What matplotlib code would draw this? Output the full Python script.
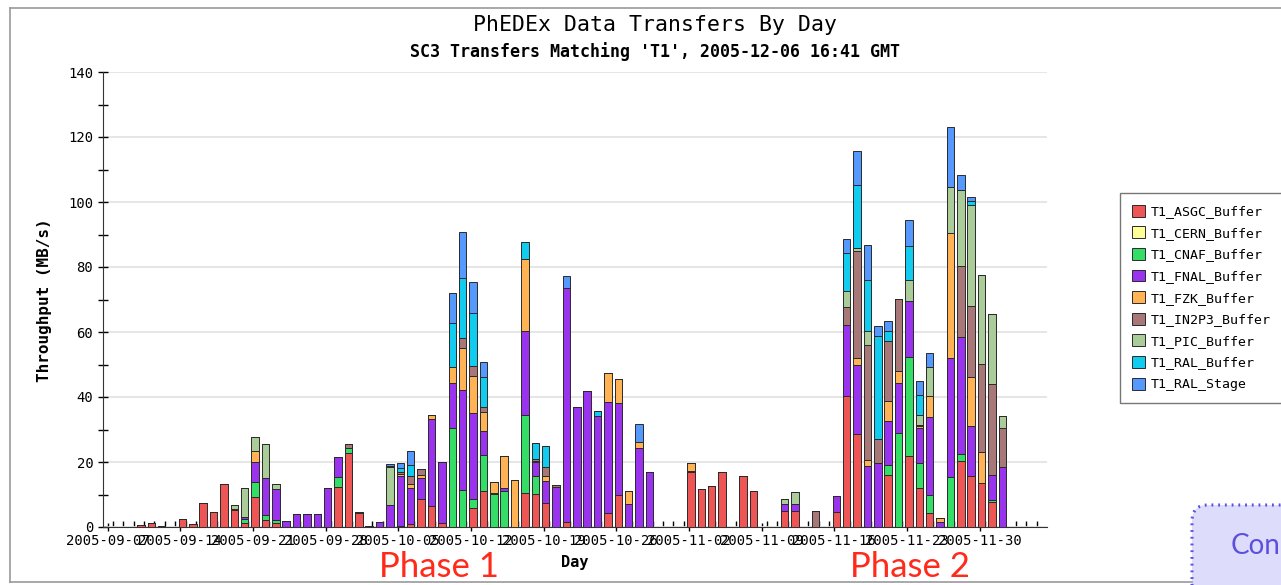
import matplotlib
matplotlib.use('Agg')
import matplotlib.pyplot as plt
import numpy as np
import pandas as pd
from matplotlib.patches import FancyBboxPatch
from matplotlib.lines import Line2D

# first bar day and start of the x axis
first_day = '2005-09-10'
axis_start = '2005-09-07'
n_label_weeks = 13

sites = ['T1_ASGC_Buffer', 'T1_CERN_Buffer', 'T1_CNAF_Buffer', 'T1_FNAL_Buffer',
         'T1_FZK_Buffer', 'T1_IN2P3_Buffer', 'T1_PIC_Buffer', 'T1_RAL_Buffer',
         'T1_RAL_Stage']
colors = ['#ee5555', '#ffff99', '#33dd66', '#9933ee', '#ffb355',
          '#a87878', '#aacc99', '#11ccee', '#5599ff']

# daily throughput (MB/s), one value per day from first_day
asgc = [0.7, 1.1, 0.3, 0, 2.5, 0.8, 7.3, 4.6, 13.1, 5.2, 1.3, 9.2,
        2.2, 1.3, 0, 0, 0, 0, 0, 12.3, 22.7, 4.2, 0, 0,
        0, 0.2, 0.9, 8.5, 6.5, 1.1, 0, 0, 5.7, 11.1, 0, 0,
        0, 10.6, 10.2, 7.5, 0, 1.6, 0, 0, 0, 4.2, 9.8, 0,
        0, 0, 0, 0, 0, 16.8, 11.6, 12.6, 16.9, 0, 15.7, 11.2,
        0, 0, 5.0, 5.0, 0, 0, 0, 4.5, 40.4, 28.6, 0, 0,
        15.9, 0, 21.7, 12.0, 4.2, 0, 0, 20.4, 15.8, 13.5, 7.6, 0]
cern = [0.0] * 84
cnaf = [0, 0, 0, 0, 0, 0, 0, 0, 0, 0.3, 1.3, 4.6,
        1.4, 0.9, 0, 0, 0, 0, 0, 3.2, 1.7, 0, 0, 0,
        0, 0, 0, 0, 0, 0, 30.6, 11.4, 2.8, 11.1, 10.1, 11.1,
        0, 23.9, 5.5, 0, 0, 0, 0, 0, 0, 0, 0, 0,
        0, 0, 0, 0, 0, 0, 0, 0, 0, 0, 0, 0,
        0, 0, 0, 0, 0, 0, 0, 0, 0, 0, 0, 0,
        3.3, 28.9, 30.5, 7.7, 5.7, 0, 15.5, 2.1, 0, 0, 0.6, 0]
fnal = [0, 0, 0, 0, 0, 0, 0, 0, 0, 0, 0.5, 6.2,
        11.4, 9.4, 1.8, 3.9, 3.9, 3.9, 11.9, 6.0, 0, 0, 0, 1.4,
        6.8, 15.6, 11.0, 6.7, 26.6, 19.0, 13.6, 30.8, 26.7, 7.3, 0.3, 0.8,
        0, 25.8, 4.4, 6.8, 12.4, 72.0, 36.8, 41.7, 34.2, 34.4, 28.5, 7.1,
        24.2, 17.0, 0, 0, 0, 0.4, 0, 0, 0, 0, 0, 0,
        0, 0, 2.0, 2.1, 0, 0, 0, 4.9, 21.7, 21.1, 18.7, 19.7,
        13.3, 15.4, 17.4, 10.8, 24.0, 1.4, 36.5, 35.9, 15.4, 0, 7.7, 18.6]
fzk = [0, 0, 0, 0, 0, 0, 0, 0, 0, 0, 0, 3.4,
       0, 0, 0, 0, 0, 0, 0, 0, 0, 0, 0, 0,
       0, 0.6, 1.3, 0.8, 1.4, 0, 5.1, 12.8, 11.3, 5.8, 3.3, 9.9,
       14.4, 22.1, 0.3, 1.4, 0, 0, 0, 0, 0, 8.9, 7.1, 4.1,
       2.0, 0, 0, 0, 0, 2.5, 0, 0, 0, 0, 0, 0,
       0, 0, 0, 0, 0, 0, 0, 0, 0, 2.3, 2.0, 0,
       6.2, 3.6, 0, 0.5, 6.4, 1.4, 38.4, 0, 15.1, 9.5, 0, 0]
in2p3 = [0, 0, 0, 0, 0, 0, 0, 0, 0, 0, 0, 0,
         0, 0, 0, 0, 0, 0, 0, 0, 1.0, 0.3, 0, 0,
         0, 0.5, 2.5, 2.0, 0, 0, 0, 3.1, 3.1, 1.5, 0, 0,
         0, 0, 0.4, 2.7, 0.6, 0, 0.2, 0, 0, 0, 0, 0,
         0, 0, 0, 0, 0, 0, 0, 0, 0, 0, 0, 0,
         0, 0, 0, 0, 0, 4.9, 0, 0, 5.6, 33.0, 35.2, 7.5,
         18.4, 22.3, 0, 0.5, 0, 0, 0, 22.0, 21.8, 27.2, 28.1, 11.9]
pic = [0, 0, 0, 0, 0, 0, 0, 0, 0, 1.3, 8.8, 4.4,
       10.4, 1.7, 0, 0, 0, 0, 0, 0, 0, 0, 0.4, 0,
       11.6, 0, 0, 0, 0, 0, 0, 0, 0, 0, 0, 0,
       0, 0, 0, 0, 0, 0, 0, 0, 0, 0, 0, 0,
       0, 0, 0, 0, 0, 0, 0, 0, 0, 0, 0, 0,
       0, 0, 1.5, 3.7, 0, 0, 0, 0, 4.8, 1.0, 4.3, 0,
       0, 0, 6.5, 3.1, 9.0, 0, 14.3, 23.3, 31.1, 27.2, 21.5, 3.8]
ral = [0, 0, 0, 0, 0, 0, 0, 0, 0, 0, 0, 0,
       0, 0, 0, 0, 0, 0, 0, 0, 0, 0, 0, 0,
       0.5, 1.3, 3.4, 0, 0, 0, 13.6, 18.4, 16.4, 9.5, 0, 0,
       0, 5.4, 5.1, 6.5, 0, 0, 0, 0, 1.5, 0, 0, 0,
       0, 0, 0, 0, 0, 0, 0, 0, 0, 0, 0, 0,
       0, 0, 0, 0, 0, 0, 0, 0, 11.8, 19.3, 15.9, 31.5,
       3.1, 0, 10.3, 6.1, 0, 0, 0, 0, 1.2, 0, 0, 0]
ral_stage = [0, 0, 0, 0, 0, 0, 0, 0, 0, 0, 0, 0,
             0, 0, 0, 0, 0, 0, 0, 0, 0, 0, 0, 0,
             0.5, 1.6, 4.3, 0, 0, 0, 9.2, 14.2, 9.5, 4.6, 0, 0,
             0, 0, 0, 0, 0, 3.6, 0, 0, 0, 0, 0, 0,
             5.4, 0, 0, 0, 0, 0, 0, 0, 0, 0, 0, 0,
             0, 0, 0, 0, 0, 0, 0, 0, 4.4, 10.5, 10.8, 3.0,
             3.3, 0, 8.2, 4.3, 4.1, 0, 18.3, 4.5, 1.2, 0, 0, 0]

series = [asgc, cern, cnaf, fnal, fzk, in2p3, pic, ral, ral_stage]

start = pd.Timestamp(axis_start)
days = pd.date_range(first_day, periods=len(asgc), freq='D')
x = np.array((days - start).days, dtype=float) + 0.2
label_days = pd.date_range(axis_start, periods=n_label_weeks, freq='7D')
label_pos = np.array((label_days - start).days, dtype=float)

mono = 'DejaVu Sans Mono'

fig = plt.figure(figsize=(12.81, 5.85), dpi=100)
ax = fig.add_axes([103/1281, 58/585, 944/1281, 455/585])

bottom = np.zeros(len(x))
for name, col, vals in zip(sites, colors, series):
    v = np.array(vals, dtype=float)
    ax.bar(x, v, width=0.72, bottom=bottom, color=col, edgecolor='#2a2a2a',
           linewidth=0.7, label=name, zorder=3)
    bottom += v

ax.set_xlim(-0.45, 90.5)
ax.set_ylim(0, 140)
ax.set_yticks(np.arange(0, 141, 20))
ax.set_yticks(np.arange(0, 141, 10), minor=True)
ax.set_xticks(label_pos)
ax.set_xticklabels([d.strftime('%Y-%m-%d') for d in label_days])
ax.set_xticks(np.arange(0, 90) + 0.5, minor=True)
ax.tick_params(axis='x', which='minor', direction='in', length=4, width=1)
ax.tick_params(axis='x', which='major', direction='inout', length=6, width=1, pad=2)
ax.tick_params(axis='y', which='both', direction='inout', length=7, width=1)
for lab in ax.get_xticklabels() + ax.get_yticklabels():
    lab.set_family(mono)
    lab.set_fontsize(10)

ax.yaxis.grid(True, color='#e2e2e2', linewidth=1.2)
ax.set_axisbelow(True)
for s in ['top', 'right']:
    ax.spines[s].set_visible(False)
ax.spines['left'].set_color('#333333')
ax.spines['bottom'].set_color('#333333')

fig.text(655/1281, 1 - 25/585, 'PhEDEx Data Transfers By Day', family=mono,
         fontsize=15.5, ha='center', va='center')
fig.text(655/1281, 1 - 52/585, "SC3 Transfers Matching 'T1', 2005-12-06 16:41 GMT",
         family=mono, fontsize=12, fontweight='bold', ha='center', va='center')
fig.text(45/1281, 1 - 300/585, 'Throughput (MB/s)', family=mono, fontsize=11.5,
         fontweight='bold', rotation=90, ha='center', va='center')
fig.text(575/1281, 1 - 563/585, 'Day', family=mono, fontsize=11,
         fontweight='bold', ha='center', va='center')

handles, labels = ax.get_legend_handles_labels()
leg = fig.legend(handles, labels, loc='upper left',
                 bbox_to_anchor=(1120/1281, 1 - 193/585),
                 prop={'family': mono, 'size': 9.5}, frameon=True,
                 fancybox=False, edgecolor='#555555', handlelength=1.0,
                 handleheight=1.0, handletextpad=0.4, labelspacing=0.62,
                 borderpad=0.9, borderaxespad=0)
leg.get_frame().set_linewidth(1.0)

# phase labels
fig.text(439/1281, 1 - 567/585, 'Phase 1', family='Lato', fontsize=25,
         color='#ff2a1a', ha='center', va='center')
fig.text(910/1281, 1 - 567/585, 'Phase 2', family='Lato', fontsize=25,
         color='#ff2a1a', ha='center', va='center')

# frame of the embedded picture
border = dict(color='#9a9a9a', linewidth=1.2, transform=fig.transFigure)
fig.add_artist(Line2D([10/1281, 1], [1 - 8/585, 1 - 8/585], **border))
fig.add_artist(Line2D([10/1281, 10/1281], [1 - 582/585, 1 - 8/585], **border))
fig.add_artist(Line2D([10/1281, 1192/1281], [1 - 582/585, 1 - 582/585], **border))

# block in the corner of the slide
box = FancyBboxPatch((1192, -40), 200, 120, boxstyle='round,pad=0,rounding_size=16',
                     facecolor='#dedcfb', edgecolor='#5b4fe0', linewidth=2.2,
                     linestyle=(0, (0.6, 1.6)), transform=None)
fig.add_artist(box)
fig.text(1231/1281, 1 - 546/585, 'Con', family='Lato', fontsize=20,
         color='#5b4fe0', ha='left', va='center')

fig.savefig('out.png', dpi=100)
